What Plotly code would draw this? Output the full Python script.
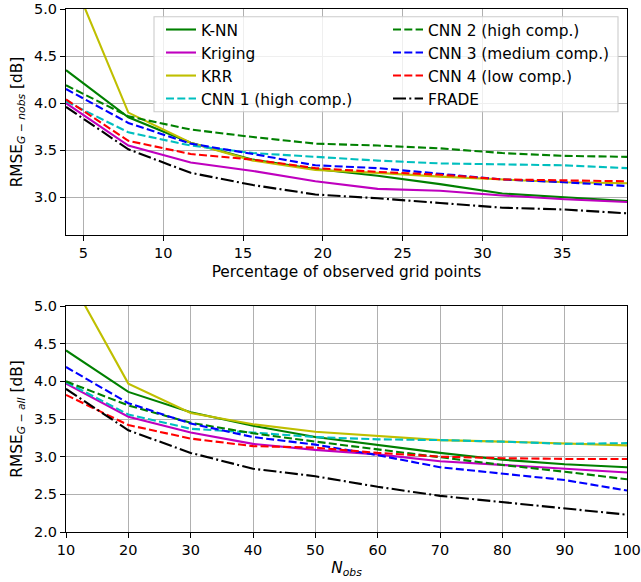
import plotly.graph_objects as go
from plotly.subplots import make_subplots

# ---------------- data ----------------
n_obs = [10, 20, 30, 40, 50, 60, 70, 80, 90, 100]
pct_obs = [3.906, 7.8125, 11.719, 15.625, 19.531, 23.4375, 27.344, 31.25, 35.156, 39.0625]

names = ["K-NN", "Kriging", "KRR", "CNN 1 (high comp.)",
         "CNN 2 (high comp.)", "CNN 3 (medium comp.)", "CNN 4 (low comp.)", "FRADE"]

# top panel: RMSE G-nobs
knn_top = [4.35, 3.85, 3.58, 3.40, 3.30, 3.23, 3.14, 3.04, 3.00, 2.96]
kriging_top = [4.00, 3.55, 3.37, 3.28, 3.17, 3.09, 3.07, 3.02, 2.98, 2.95]
krr_top = [5.49, 3.90, 3.58, 3.39, 3.29, 3.26, 3.22, 3.19, 3.16, 3.15]
cnn1_top = [4.02, 3.69, 3.55, 3.47, 3.43, 3.39, 3.36, 3.35, 3.34, 3.31]
cnn2_top = [4.19, 3.86, 3.72, 3.64, 3.57, 3.55, 3.52, 3.47, 3.44, 3.43]
cnn3_top = [4.15, 3.79, 3.57, 3.46, 3.34, 3.31, 3.25, 3.19, 3.16, 3.12]
cnn4_top = [4.04, 3.60, 3.46, 3.40, 3.31, 3.27, 3.24, 3.19, 3.18, 3.17]
frade_top = [3.96, 3.51, 3.26, 3.13, 3.03, 2.99, 2.94, 2.89, 2.87, 2.83]

# bottom panel: RMSE G-all
knn_bot = [4.41, 3.86, 3.59, 3.41, 3.26, 3.16, 3.05, 2.96, 2.90, 2.86]
kriging_bot = [3.97, 3.53, 3.32, 3.17, 3.09, 3.03, 2.94, 2.89, 2.83, 2.79]
krr_bot = [5.46, 3.97, 3.58, 3.43, 3.33, 3.28, 3.22, 3.20, 3.17, 3.15]
cnn1_bot = [3.99, 3.56, 3.37, 3.32, 3.26, 3.23, 3.22, 3.20, 3.17, 3.18]
cnn2_bot = [4.00, 3.68, 3.45, 3.31, 3.20, 3.10, 2.99, 2.89, 2.80, 2.70]
cnn3_bot = [4.19, 3.71, 3.44, 3.26, 3.16, 3.02, 2.86, 2.78, 2.69, 2.55]
cnn4_bot = [3.82, 3.42, 3.24, 3.14, 3.12, 3.05, 3.00, 2.98, 2.97, 2.97]
frade_bot = [3.90, 3.35, 3.05, 2.84, 2.74, 2.60, 2.48, 2.40, 2.31, 2.23]

top_series = [knn_top, kriging_top, krr_top, cnn1_top, cnn2_top, cnn3_top, cnn4_top, frade_top]
bot_series = [knn_bot, kriging_bot, krr_bot, cnn1_bot, cnn2_bot, cnn3_bot, cnn4_bot, frade_bot]

colors = ["#008000", "#bf00bf", "#bfbf00", "#00bfbf", "#008000", "#0000ff", "#ff0000", "#000000"]
dashes = ["solid", "solid", "solid", "8px,3.3px", "8px,3.3px", "8px,3.3px", "8px,3.3px",
          "13px,3.3px,2px,3.3px"]
legend_ids = ["legend", "legend", "legend", "legend", "legend2", "legend2", "legend2", "legend2"]

FONT = "DejaVu Sans"
FS = 15.4      # titles / legend
TFS = 14.5     # tick labels

fig = make_subplots(rows=2, cols=1)

for i, name in enumerate(names):
    fig.add_trace(go.Scatter(
        x=pct_obs, y=top_series[i], mode="lines", name=name,
        line=dict(color=colors[i], width=2.1, dash=dashes[i]),
        legend=legend_ids[i], legendgroup="g%d" % i, showlegend=True,
    ), row=1, col=1)
for i, name in enumerate(names):
    fig.add_trace(go.Scatter(
        x=n_obs, y=bot_series[i], mode="lines", name=name,
        line=dict(color=colors[i], width=2.1, dash=dashes[i]),
        legendgroup="g%d" % i, showlegend=False,
    ), row=2, col=1)

axis_common = dict(
    showline=True, mirror=True, linecolor="black", linewidth=1.1,
    ticks="outside", ticklen=5, tickwidth=1.1, tickcolor="black",
    showgrid=True, gridcolor="#b0b0b0", gridwidth=1.1, zeroline=False,
    tickfont=dict(family=FONT, size=TFS, color="black"),
    automargin=False, ticklabeloverflow="allow",
)

fig.update_xaxes(axis_common)
fig.update_yaxes(axis_common)

PW = 561  # plot width in px (66 .. 627)

fig.update_layout(
    xaxis=dict(domain=[0, 1], range=[3.906, 39.0625], tickmode="array",
               tickvals=[5, 10, 15, 20, 25, 30, 35],
               title=dict(text="Percentage of observed grid points",
                          font=dict(family=FONT, size=FS, color="black"), standoff=5)),
    yaxis=dict(domain=[0.5679, 1.0], range=[2.6, 5.0], tickmode="array",
               tickvals=[3.0, 3.5, 4.0, 4.5, 5.0], tickformat=".1f",
               title=dict(text="RMSE<sub><i>G − nobs</i></sub> [dB]",
                          font=dict(family=FONT, size=FS, color="black"), standoff=7)),
    xaxis2=dict(domain=[0, 1], range=[10, 100], tickmode="array",
                tickvals=n_obs,
                title=dict(text="<i>N</i><sub><i>obs</i></sub>",
                           font=dict(family=FONT, size=FS, color="black"), standoff=4)),
    yaxis2=dict(domain=[0, 0.4321], range=[2.0, 5.0], tickmode="array",
                tickvals=[2.0, 2.5, 3.0, 3.5, 4.0, 4.5, 5.0], tickformat=".1f",
                title=dict(text="RMSE<sub><i>G − all</i></sub> [dB]",
                           font=dict(family=FONT, size=FS, color="black"), standoff=7)),
    width=641, height=582,
    margin=dict(l=66, r=14, t=9, b=50),
    paper_bgcolor="white", plot_bgcolor="white",
    font=dict(family=FONT, size=FS, color="black"),
    legend=dict(x=(161 - 66) / PW, y=(532 - 13) / 523, xanchor="left", yanchor="top",
                bgcolor="rgba(0,0,0,0)", borderwidth=0, tracegroupgap=0,
                font=dict(family=FONT, size=FS, color="black")),
    legend2=dict(x=(388 - 66) / PW, y=(532 - 13) / 523, xanchor="left", yanchor="top",
                 bgcolor="rgba(0,0,0,0)", borderwidth=0, tracegroupgap=0,
                 font=dict(family=FONT, size=FS, color="black")),
    shapes=[dict(type="rect", xref="paper", yref="paper",
                 x0=(154 - 66) / PW, x1=(618 - 66) / PW,
                 y0=(532 - 111.7) / 523, y1=(532 - 16.7) / 523,
                 line=dict(color="#cccccc", width=1.1),
                 fillcolor="rgba(255,255,255,0.8)", layer="above")],
)

fig.write_html("out.html")
